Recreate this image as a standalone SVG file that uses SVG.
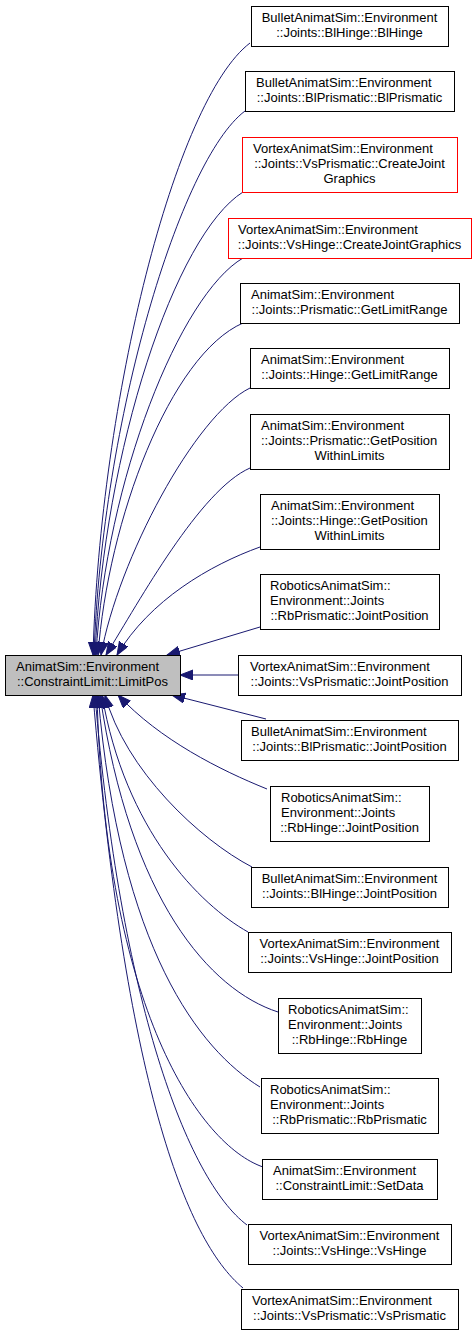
<svg xmlns="http://www.w3.org/2000/svg" width="476" height="1336" viewBox="0 0 476 1336">
<style>
.n{fill:#fff;stroke:#000;stroke-width:1}
.r{fill:#fff;stroke:#ff0000;stroke-width:1}
.m{fill:#bfbfbf;stroke:#000;stroke-width:1}
text{font-family:"Liberation Sans",Arial,sans-serif;font-size:13px;fill:#000}
.c{text-anchor:middle}
.e{fill:none;stroke:#191970;stroke-width:1;marker-end:url(#a)}
</style>
<defs>
<marker id="a" markerUnits="userSpaceOnUse" markerWidth="14" markerHeight="11" refX="13" refY="5" orient="auto">
<path d="M0,0 L13,5 L0,10 Z" fill="#191970" stroke="#191970" stroke-width="1"/>
</marker>
</defs>
<rect width="476" height="1336" fill="#fff"/>
<g id="edges">
<path class="e" d="M250,43 C175,100 100,400 93,655"/>
<path class="e" d="M245,111 C180,160 102,420 94,655"/>
<path class="e" d="M243,192 C175,235 104,450 95,655"/>
<path class="e" d="M243,258 C180,295 106,480 96,655"/>
<path class="e" d="M243,323 C170,355 108,520 98,655"/>
<path class="e" d="M250,388 C195,415 118,560 101,655"/>
<path class="e" d="M250,468 C200,490 140,600 106,655"/>
<path class="e" d="M260,547 C210,565 150,600 117,655"/>
<path class="e" d="M260,627 L167,655"/>
<path class="e" d="M238,675 L180,675"/>
<path class="e" d="M266,719 L172,695"/>
<path class="e" d="M267,789 C220,770 160,740 118,695"/>
<path class="e" d="M252,867 C200,840 125,770 105,695"/>
<path class="e" d="M248,932 C200,905 125,830 102,695"/>
<path class="e" d="M278,1012 C210,990 130,900 100,695"/>
<path class="e" d="M260,1087 C200,1050 120,950 98,695"/>
<path class="e" d="M263,1167 C200,1145 105,1010 97,695"/>
<path class="e" d="M247,1225 C187,1180 120,1000 95,695"/>
<path class="e" d="M243,1288 C185,1240 125,1080 93,695"/>
</g>
<g id="main">
<rect class="m" x="5.5" y="655.5" width="175" height="40"/>
<text x="16" y="671">AnimatSim::Environment</text>
<text class="c" x="92.5" y="686">::ConstraintLimit::LimitPos</text>
</g>
<g id="n1">
<rect class="n" x="251.5" y="6.5" width="197" height="40"/>
<text class="c" x="349.5" y="22">BulletAnimatSim::Environment</text>
<text class="c" x="349.5" y="37">::Joints::BlHinge::BlHinge</text>
</g>
<g id="n2">
<rect class="n" x="245.5" y="71.5" width="209" height="40"/>
<text x="256" y="87">BulletAnimatSim::Environment</text>
<text class="c" x="349.5" y="102">::Joints::BlPrismatic::BlPrismatic</text>
</g>
<g id="n3">
<rect class="r" x="242.5" y="137.5" width="215" height="55"/>
<text x="253" y="153">VortexAnimatSim::Environment</text>
<text class="c" x="349.5" y="168">::Joints::VsPrismatic::CreateJoint</text>
<text class="c" x="349.5" y="183">Graphics</text>
</g>
<g id="n4">
<rect class="r" x="228.5" y="218.5" width="243" height="40"/>
<text x="238" y="234">VortexAnimatSim::Environment</text>
<text class="c" x="349.5" y="249">::Joints::VsHinge::CreateJointGraphics</text>
</g>
<g id="n5">
<rect class="n" x="240.5" y="283.5" width="219" height="40"/>
<text x="251" y="299">AnimatSim::Environment</text>
<text class="c" x="349.5" y="314">::Joints::Prismatic::GetLimitRange</text>
</g>
<g id="n6">
<rect class="n" x="250.5" y="348.5" width="199" height="40"/>
<text x="261" y="364">AnimatSim::Environment</text>
<text class="c" x="349.5" y="379">::Joints::Hinge::GetLimitRange</text>
</g>
<g id="n7">
<rect class="n" x="250.5" y="414.5" width="199" height="55"/>
<text x="261" y="430">AnimatSim::Environment</text>
<text x="261" y="445">::Joints::Prismatic::GetPosition</text>
<text class="c" x="349.5" y="460">WithinLimits</text>
</g>
<g id="n8">
<rect class="n" x="260.5" y="494.5" width="179" height="55"/>
<text x="271" y="510">AnimatSim::Environment</text>
<text x="271" y="525">::Joints::Hinge::GetPosition</text>
<text class="c" x="349.5" y="540">WithinLimits</text>
</g>
<g id="n9">
<rect class="n" x="260.5" y="574.5" width="179" height="55"/>
<text x="270" y="590">RoboticsAnimatSim::</text>
<text x="270" y="605">Environment::Joints</text>
<text class="c" x="349.5" y="620">::RbPrismatic::JointPosition</text>
</g>
<g id="n10">
<rect class="n" x="238.5" y="655.5" width="223" height="40"/>
<text x="250" y="671">VortexAnimatSim::Environment</text>
<text class="c" x="349.5" y="686">::Joints::VsPrismatic::JointPosition</text>
</g>
<g id="n11">
<rect class="n" x="241.5" y="720.5" width="217" height="40"/>
<text x="251" y="736">BulletAnimatSim::Environment</text>
<text class="c" x="349.5" y="751">::Joints::BlPrismatic::JointPosition</text>
</g>
<g id="n12">
<rect class="n" x="270.5" y="786.5" width="159" height="55"/>
<text x="281" y="802">RoboticsAnimatSim::</text>
<text x="281" y="817">Environment::Joints</text>
<text class="c" x="349.5" y="832">::RbHinge::JointPosition</text>
</g>
<g id="n13">
<rect class="n" x="251.5" y="867.5" width="197" height="40"/>
<text class="c" x="349.5" y="883">BulletAnimatSim::Environment</text>
<text class="c" x="349.5" y="898">::Joints::BlHinge::JointPosition</text>
</g>
<g id="n14">
<rect class="n" x="248.5" y="932.5" width="203" height="40"/>
<text class="c" x="349.5" y="948">VortexAnimatSim::Environment</text>
<text class="c" x="349.5" y="963">::Joints::VsHinge::JointPosition</text>
</g>
<g id="n15">
<rect class="n" x="278.5" y="998.5" width="143" height="55"/>
<text x="288" y="1014">RoboticsAnimatSim::</text>
<text x="288" y="1029">Environment::Joints</text>
<text class="c" x="349.5" y="1044">::RbHinge::RbHinge</text>
</g>
<g id="n16">
<rect class="n" x="261.5" y="1078.5" width="177" height="55"/>
<text x="270" y="1094">RoboticsAnimatSim::</text>
<text x="270" y="1109">Environment::Joints</text>
<text class="c" x="349.5" y="1124">::RbPrismatic::RbPrismatic</text>
</g>
<g id="n17">
<rect class="n" x="262.5" y="1159.5" width="175" height="40"/>
<text x="273" y="1175">AnimatSim::Environment</text>
<text class="c" x="349.5" y="1190">::ConstraintLimit::SetData</text>
</g>
<g id="n18">
<rect class="n" x="248.5" y="1224.5" width="203" height="40"/>
<text class="c" x="349.5" y="1240">VortexAnimatSim::Environment</text>
<text class="c" x="349.5" y="1255">::Joints::VsHinge::VsHinge</text>
</g>
<g id="n19">
<rect class="n" x="241.5" y="1289.5" width="217" height="40"/>
<text x="252" y="1305">VortexAnimatSim::Environment</text>
<text class="c" x="349.5" y="1320">::Joints::VsPrismatic::VsPrismatic</text>
</g>
</svg>
